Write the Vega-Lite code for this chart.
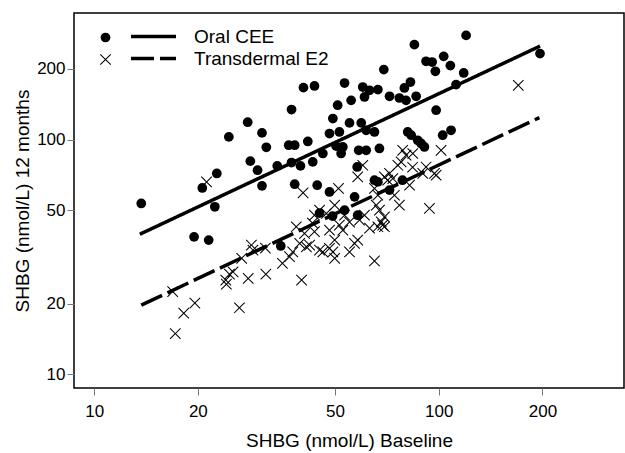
{
  "$schema": "https://vega.github.io/schema/vega-lite/v6.json",
  "width": 550,
  "height": 375,
  "autosize": "none",
  "padding": {"left": 74, "top": 13, "right": 1, "bottom": 65},
  "background": "white",
  "config": {
    "font": "Liberation Sans",
    "view": {"stroke": "black", "strokeWidth": 1.5},
    "axis": {"grid": false, "domain": false, "tickColor": "#777", "tickSize": 7, "tickWidth": 1, "labelFontSize": 17, "labelColor": "black", "titleFontSize": 19, "titleFontWeight": "normal", "titleColor": "black", "labelFont": "Liberation Sans", "titleFont": "Liberation Sans"},
    "legend": {"labelFont": "Liberation Sans", "labelFontSize": 19, "labelColor": "black", "padding": 0, "rowPadding": 2}
  },
  "datasets": {
    "pts": [
      {"x": 13.7, "y": 53.4, "Group": "Oral CEE"},
      {"x": 20.6, "y": 62.2, "Group": "Oral CEE"},
      {"x": 22.7, "y": 71.7, "Group": "Oral CEE"},
      {"x": 22.4, "y": 51.7, "Group": "Oral CEE"},
      {"x": 24.6, "y": 102.6, "Group": "Oral CEE"},
      {"x": 27.9, "y": 118.5, "Group": "Oral CEE"},
      {"x": 28.4, "y": 80.9, "Group": "Oral CEE"},
      {"x": 30.7, "y": 106.7, "Group": "Oral CEE"},
      {"x": 31.6, "y": 92.7, "Group": "Oral CEE"},
      {"x": 29.8, "y": 74.0, "Group": "Oral CEE"},
      {"x": 30.7, "y": 63.5, "Group": "Oral CEE"},
      {"x": 34.0, "y": 77.2, "Group": "Oral CEE"},
      {"x": 37.4, "y": 134.2, "Group": "Oral CEE"},
      {"x": 36.7, "y": 94.6, "Group": "Oral CEE"},
      {"x": 38.2, "y": 94.6, "Group": "Oral CEE"},
      {"x": 37.4, "y": 79.8, "Group": "Oral CEE"},
      {"x": 38.2, "y": 64.5, "Group": "Oral CEE"},
      {"x": 39.7, "y": 77.2, "Group": "Oral CEE"},
      {"x": 40.5, "y": 166.4, "Group": "Oral CEE"},
      {"x": 43.6, "y": 169.1, "Group": "Oral CEE"},
      {"x": 41.7, "y": 98.1, "Group": "Oral CEE"},
      {"x": 43.1, "y": 80.3, "Group": "Oral CEE"},
      {"x": 44.4, "y": 63.9, "Group": "Oral CEE"},
      {"x": 120.1, "y": 277.8, "Group": "Oral CEE"},
      {"x": 85.0, "y": 253.7, "Group": "Oral CEE"},
      {"x": 103.4, "y": 226.2, "Group": "Oral CEE"},
      {"x": 91.9, "y": 215.4, "Group": "Oral CEE"},
      {"x": 95.7, "y": 213.9, "Group": "Oral CEE"},
      {"x": 97.8, "y": 195.3, "Group": "Oral CEE"},
      {"x": 108.1, "y": 206.5, "Group": "Oral CEE"},
      {"x": 118.2, "y": 192.1, "Group": "Oral CEE"},
      {"x": 112.3, "y": 171.4, "Group": "Oral CEE"},
      {"x": 196.8, "y": 232.3, "Group": "Oral CEE"},
      {"x": 69.3, "y": 198.6, "Group": "Oral CEE"},
      {"x": 53.3, "y": 174.1, "Group": "Oral CEE"},
      {"x": 60.2, "y": 167.4, "Group": "Oral CEE"},
      {"x": 63.0, "y": 162.1, "Group": "Oral CEE"},
      {"x": 66.6, "y": 163.2, "Group": "Oral CEE"},
      {"x": 60.9, "y": 151.8, "Group": "Oral CEE"},
      {"x": 55.7, "y": 146.9, "Group": "Oral CEE"},
      {"x": 50.9, "y": 140.0, "Group": "Oral CEE"},
      {"x": 72.0, "y": 152.9, "Group": "Oral CEE"},
      {"x": 76.9, "y": 150.3, "Group": "Oral CEE"},
      {"x": 80.4, "y": 146.9, "Group": "Oral CEE"},
      {"x": 82.8, "y": 175.8, "Group": "Oral CEE"},
      {"x": 79.5, "y": 165.8, "Group": "Oral CEE"},
      {"x": 86.0, "y": 152.9, "Group": "Oral CEE"},
      {"x": 98.3, "y": 133.3, "Group": "Oral CEE"},
      {"x": 49.3, "y": 122.9, "Group": "Oral CEE"},
      {"x": 55.1, "y": 117.7, "Group": "Oral CEE"},
      {"x": 59.6, "y": 117.7, "Group": "Oral CEE"},
      {"x": 48.2, "y": 106.1, "Group": "Oral CEE"},
      {"x": 51.5, "y": 107.7, "Group": "Oral CEE"},
      {"x": 61.6, "y": 109.5, "Group": "Oral CEE"},
      {"x": 65.1, "y": 107.7, "Group": "Oral CEE"},
      {"x": 50.4, "y": 93.7, "Group": "Oral CEE"},
      {"x": 52.7, "y": 93.0, "Group": "Oral CEE"},
      {"x": 58.6, "y": 90.0, "Group": "Oral CEE"},
      {"x": 61.6, "y": 90.0, "Group": "Oral CEE"},
      {"x": 67.3, "y": 91.6, "Group": "Oral CEE"},
      {"x": 46.1, "y": 87.2, "Group": "Oral CEE"},
      {"x": 52.1, "y": 87.2, "Group": "Oral CEE"},
      {"x": 58.0, "y": 76.4, "Group": "Oral CEE"},
      {"x": 81.3, "y": 107.7, "Group": "Oral CEE"},
      {"x": 83.2, "y": 104.3, "Group": "Oral CEE"},
      {"x": 86.9, "y": 99.3, "Group": "Oral CEE"},
      {"x": 88.9, "y": 96.2, "Group": "Oral CEE"},
      {"x": 90.9, "y": 93.0, "Group": "Oral CEE"},
      {"x": 102.7, "y": 104.3, "Group": "Oral CEE"},
      {"x": 108.6, "y": 109.5, "Group": "Oral CEE"},
      {"x": 48.2, "y": 59.8, "Group": "Oral CEE"},
      {"x": 57.0, "y": 57.0, "Group": "Oral CEE"},
      {"x": 66.6, "y": 66.0, "Group": "Oral CEE"},
      {"x": 19.5, "y": 38.5, "Group": "Oral CEE"},
      {"x": 21.5, "y": 37.3, "Group": "Oral CEE"},
      {"x": 34.8, "y": 35.2, "Group": "Oral CEE"},
      {"x": 58.2, "y": 47.6, "Group": "Oral CEE"},
      {"x": 65.1, "y": 67.1, "Group": "Oral CEE"},
      {"x": 45.1, "y": 48.6, "Group": "Oral CEE"},
      {"x": 49.2, "y": 47.2, "Group": "Oral CEE"},
      {"x": 53.3, "y": 50.0, "Group": "Oral CEE"},
      {"x": 72.0, "y": 60.9, "Group": "Oral CEE"},
      {"x": 78.5, "y": 67.1, "Group": "Oral CEE"},
      {"x": 21.2, "y": 66.0, "Group": "Transdermal E2"},
      {"x": 40.4, "y": 59.3, "Group": "Transdermal E2"},
      {"x": 170.2, "y": 170.2, "Group": "Transdermal E2"},
      {"x": 78.6, "y": 90.0, "Group": "Transdermal E2"},
      {"x": 80.4, "y": 85.8, "Group": "Transdermal E2"},
      {"x": 84.1, "y": 87.2, "Group": "Transdermal E2"},
      {"x": 77.8, "y": 80.3, "Group": "Transdermal E2"},
      {"x": 76.1, "y": 77.7, "Group": "Transdermal E2"},
      {"x": 101.6, "y": 90.0, "Group": "Transdermal E2"},
      {"x": 84.0, "y": 76.2, "Group": "Transdermal E2"},
      {"x": 91.9, "y": 76.4, "Group": "Transdermal E2"},
      {"x": 97.2, "y": 71.7, "Group": "Transdermal E2"},
      {"x": 60.2, "y": 77.7, "Group": "Transdermal E2"},
      {"x": 58.2, "y": 69.3, "Group": "Transdermal E2"},
      {"x": 94.0, "y": 50.9, "Group": "Transdermal E2"},
      {"x": 51.2, "y": 61.9, "Group": "Transdermal E2"},
      {"x": 65.9, "y": 52.5, "Group": "Transdermal E2"},
      {"x": 67.3, "y": 50.0, "Group": "Transdermal E2"},
      {"x": 69.6, "y": 46.8, "Group": "Transdermal E2"},
      {"x": 68.1, "y": 44.6, "Group": "Transdermal E2"},
      {"x": 45.1, "y": 50.0, "Group": "Transdermal E2"},
      {"x": 47.2, "y": 48.4, "Group": "Transdermal E2"},
      {"x": 68.8, "y": 43.2, "Group": "Transdermal E2"},
      {"x": 17.2, "y": 14.9, "Group": "Transdermal E2"},
      {"x": 16.9, "y": 22.5, "Group": "Transdermal E2"},
      {"x": 18.2, "y": 18.2, "Group": "Transdermal E2"},
      {"x": 19.6, "y": 20.1, "Group": "Transdermal E2"},
      {"x": 26.4, "y": 19.2, "Group": "Transdermal E2"},
      {"x": 24.1, "y": 25.2, "Group": "Transdermal E2"},
      {"x": 24.7, "y": 26.7, "Group": "Transdermal E2"},
      {"x": 24.2, "y": 24.2, "Group": "Transdermal E2"},
      {"x": 25.3, "y": 27.3, "Group": "Transdermal E2"},
      {"x": 28.0, "y": 25.6, "Group": "Transdermal E2"},
      {"x": 31.5, "y": 26.7, "Group": "Transdermal E2"},
      {"x": 40.0, "y": 25.2, "Group": "Transdermal E2"},
      {"x": 35.2, "y": 29.7, "Group": "Transdermal E2"},
      {"x": 36.9, "y": 31.7, "Group": "Transdermal E2"},
      {"x": 37.7, "y": 33.2, "Group": "Transdermal E2"},
      {"x": 28.6, "y": 35.5, "Group": "Transdermal E2"},
      {"x": 28.9, "y": 33.8, "Group": "Transdermal E2"},
      {"x": 31.4, "y": 34.5, "Group": "Transdermal E2"},
      {"x": 26.8, "y": 31.2, "Group": "Transdermal E2"},
      {"x": 38.6, "y": 42.5, "Group": "Transdermal E2"},
      {"x": 40.8, "y": 39.8, "Group": "Transdermal E2"},
      {"x": 39.5, "y": 36.1, "Group": "Transdermal E2"},
      {"x": 42.2, "y": 35.5, "Group": "Transdermal E2"},
      {"x": 43.0, "y": 44.1, "Group": "Transdermal E2"},
      {"x": 65.1, "y": 30.4, "Group": "Transdermal E2"},
      {"x": 49.9, "y": 31.2, "Group": "Transdermal E2"},
      {"x": 55.1, "y": 33.2, "Group": "Transdermal E2"},
      {"x": 58.2, "y": 37.3, "Group": "Transdermal E2"},
      {"x": 57.0, "y": 36.1, "Group": "Transdermal E2"},
      {"x": 45.1, "y": 33.8, "Group": "Transdermal E2"},
      {"x": 46.1, "y": 33.2, "Group": "Transdermal E2"},
      {"x": 41.3, "y": 34.9, "Group": "Transdermal E2"},
      {"x": 48.2, "y": 34.4, "Group": "Transdermal E2"},
      {"x": 49.3, "y": 33.2, "Group": "Transdermal E2"},
      {"x": 66.6, "y": 42.5, "Group": "Transdermal E2"},
      {"x": 69.6, "y": 42.5, "Group": "Transdermal E2"},
      {"x": 58.9, "y": 45.4, "Group": "Transdermal E2"},
      {"x": 52.7, "y": 41.1, "Group": "Transdermal E2"},
      {"x": 43.6, "y": 40.5, "Group": "Transdermal E2"},
      {"x": 98.3, "y": 70.5, "Group": "Transdermal E2"},
      {"x": 82.3, "y": 63.9, "Group": "Transdermal E2"},
      {"x": 72.0, "y": 71.7, "Group": "Transdermal E2"},
      {"x": 73.6, "y": 68.2, "Group": "Transdermal E2"},
      {"x": 71.1, "y": 67.1, "Group": "Transdermal E2"},
      {"x": 69.6, "y": 69.3, "Group": "Transdermal E2"},
      {"x": 65.1, "y": 61.9, "Group": "Transdermal E2"},
      {"x": 66.6, "y": 57.9, "Group": "Transdermal E2"},
      {"x": 89.9, "y": 71.7, "Group": "Transdermal E2"},
      {"x": 49.9, "y": 37.3, "Group": "Transdermal E2"},
      {"x": 49.9, "y": 52.5, "Group": "Transdermal E2"},
      {"x": 53.3, "y": 47.6, "Group": "Transdermal E2"},
      {"x": 55.1, "y": 44.5, "Group": "Transdermal E2"},
      {"x": 60.9, "y": 47.6, "Group": "Transdermal E2"},
      {"x": 63.0, "y": 41.9, "Group": "Transdermal E2"},
      {"x": 51.5, "y": 43.2, "Group": "Transdermal E2"},
      {"x": 48.2, "y": 41.1, "Group": "Transdermal E2"},
      {"x": 74.4, "y": 57.9, "Group": "Transdermal E2"},
      {"x": 76.9, "y": 52.5, "Group": "Transdermal E2"},
      {"x": 43.6, "y": 47.6, "Group": "Transdermal E2"}
    ],
    "fit": [
      {"x": 13.57, "y": 39.5, "Treatment": "Oral CEE"},
      {"x": 196.8, "y": 250, "Treatment": "Oral CEE"},
      {"x": 13.7, "y": 19.7, "Treatment": "Transdermal E2"},
      {"x": 196, "y": 124, "Treatment": "Transdermal E2"}
    ]
  },
  "layer": [
    {
      "data": {"name": "pts"},
      "mark": {"type": "point", "filled": true, "fill": "black", "strokeWidth": 0, "opacity": 1, "size": 95},
      "encoding": {
        "x": {"field": "x", "type": "quantitative", "scale": {"type": "log", "domain": [8.74, 345], "nice": false},
              "axis": {"values": [10, 20, 50, 100, 200], "title": "SHBG (nmol/L) Baseline", "labelPadding": 8, "titlePadding": 12}},
        "y": {"field": "y", "type": "quantitative", "scale": {"type": "log", "domain": [8.74, 346], "nice": false},
              "axis": {"values": [10, 20, 50, 100, 200], "title": "SHBG (nmol/L) 12 months", "labelPadding": 2, "titlePadding": 4}},
        "shape": {"field": "Group", "type": "nominal",
                  "scale": {"range": ["circle", "M0,-0.15L1,-1.15L1.15,-1L0.15,0L1.15,1L1,1.15L0,0.15L-1,1.15L-1.15,1L-0.15,0L-1.15,-1L-1,-1.15Z"]},
                  "legend": {"orient": "none", "legendX": 22, "legendY": 15, "title": null, "direction": "vertical",
                             "labelOpacity": 0, "labelFontSize": 19, "labelLimit": 2,
                             "symbolFillColor": "black", "symbolStrokeWidth": 0, "symbolSize": 95, "symbolOpacity": 1}}
      }
    },
    {
      "data": {"name": "fit"},
      "mark": {"type": "line", "color": "black", "strokeWidth": 3.5},
      "encoding": {
        "x": {"field": "x", "type": "quantitative"},
        "y": {"field": "y", "type": "quantitative"},
        "strokeDash": {"field": "Treatment", "type": "nominal",
                       "scale": {"range": [[1, 0], [23, 6]]},
                       "legend": {"orient": "none", "legendX": 70, "legendY": 14, "title": null, "direction": "vertical",
                                  "symbolType": "M-4.5,0L4.5,0", "symbolSize": 100, "symbolStrokeColor": "black",
                                  "symbolStrokeWidth": 3.5, "labelOffset": 31}}
      }
    }
  ]
}
